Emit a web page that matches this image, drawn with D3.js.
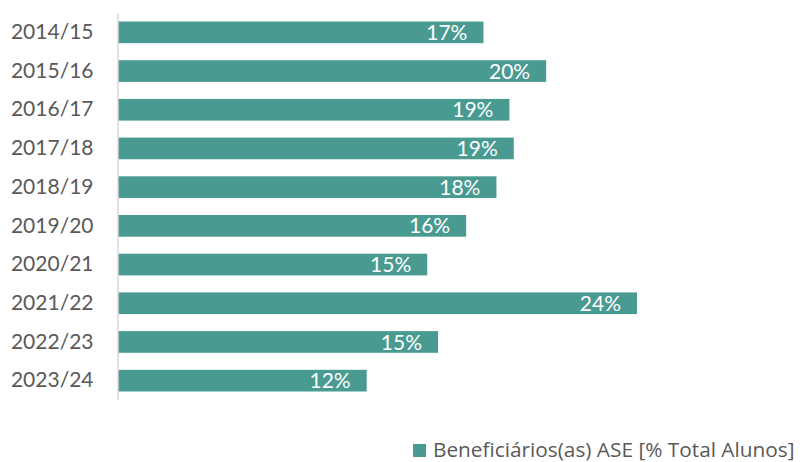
<!DOCTYPE html>
<html>
<head>
<meta charset="utf-8">
<script src="https://cdn.jsdelivr.net/npm/d3@7"></script>
<style>
  body { margin: 0; background: #fff; }
  svg text { font-family: Lato, "Open Sans", sans-serif; }
</style>
</head>
<body>
<script>
// school years and share of ASE beneficiaries (% of all students)
const years = ["2014/15", "2015/16", "2016/17", "2017/18", "2018/19",
               "2019/20", "2020/21", "2021/22", "2022/23", "2023/24"]
const values = [16.9, 19.8, 18.1, 18.3, 17.5, 16.1, 14.3, 24.0, 14.8, 11.5]
const valueLabels = ["17%", "20%", "19%", "19%", "18%", "16%", "15%", "24%", "15%", "12%"]
const seriesName = "Beneficiários(as) ASE [% Total Alunos]"

const width = 800
const height = 462
const barColor = "#499a91"
const textColor = "#595959"

const svg = d3.select("body")
  .append("svg")
  .attr("width", width)
  .attr("height", height)

const xScale = d3.scaleLinear()
  .domain([0, 24])
  .range([118, 637])

const yScale = d3.scaleBand()
  .domain(years)
  .range([13, 400])
  .paddingInner(0.44)
  .paddingOuter(0.22)

const data = years.map((y, i) => ({ year: y, value: values[i], label: valueLabels[i] }))

// bars
svg.selectAll(".bar")
  .data(data)
  .enter()
  .append("rect")
  .attr("class", "bar")
  .attr("x", xScale(0))
  .attr("y", d => yScale(d.year))
  .attr("width", d => xScale(d.value) - xScale(0))
  .attr("height", yScale.bandwidth())
  .attr("fill", barColor)

// y axis (line only, labels on the left)
const yAxis = d3.axisLeft(yScale).tickSize(0).tickPadding(24)
const yAxisG = svg.append("g")
  .attr("class", "axis y")
  .attr("transform", `translate(${xScale(0) - 0.5}, 0)`)
  .call(yAxis)

yAxisG.select(".domain")
  .attr("stroke", "#d9d9d9")
  .attr("stroke-width", 1.5)

yAxisG.selectAll("text")
  .attr("fill", textColor)
  .attr("font-size", 21)

// value labels inside the bars
svg.selectAll(".value-label")
  .data(data)
  .enter()
  .append("text")
  .attr("class", "value-label")
  .attr("x", d => xScale(d.value) - 16)
  .attr("y", d => yScale(d.year) + yScale.bandwidth() / 2)
  .attr("dy", "0.36em")
  .attr("text-anchor", "end")
  .attr("fill", "#ffffff")
  .attr("font-size", 21)
  .text(d => d.label)

// legend
const legend = svg.append("g")
  .attr("transform", "translate(413, 444)")

legend.append("rect")
  .attr("width", 13)
  .attr("height", 13)
  .attr("fill", barColor)

legend.append("text")
  .attr("x", 20)
  .attr("y", 13)
  .attr("fill", textColor)
  .attr("font-size", 20.8)
  .style("font-family", "'Open Sans', sans-serif")
  .text(seriesName)
</script>
</body>
</html>
